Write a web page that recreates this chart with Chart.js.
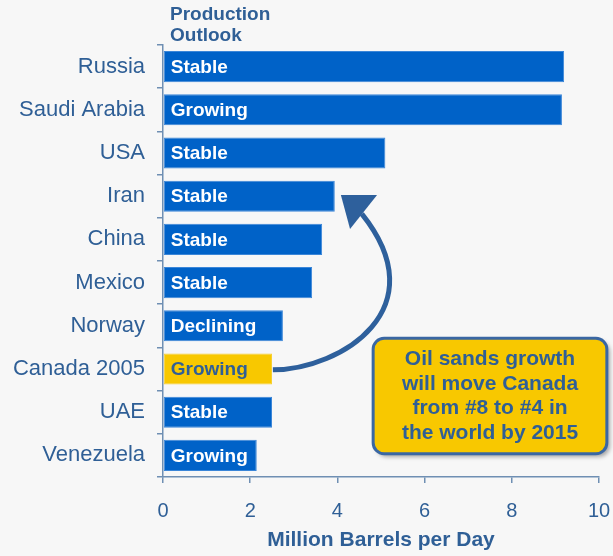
<!DOCTYPE html>
<html>
<head>
<meta charset="utf-8">
<script src="https://cdn.jsdelivr.net/npm/chart.js@4/dist/chart.umd.min.js"></script>
<style>
    html, body { margin: 0; padding: 0; background: #f7f7f7; }
    #wrap { width: 613px; height: 556px; position: relative; }
</style>
</head>
<body>
<div id="wrap"><canvas id="oil-chart"></canvas></div>
<script>
const countries = ['Russia', 'Saudi Arabia', 'USA', 'Iran', 'China', 'Mexico', 'Norway', 'Canada 2005', 'UAE', 'Venezuela'];
const production = [9.2, 9.15, 5.1, 3.94, 3.65, 3.42, 2.75, 2.5, 2.5, 2.15];
const outlook = ['Stable', 'Growing', 'Stable', 'Stable', 'Stable', 'Stable', 'Declining', 'Growing', 'Stable', 'Growing'];
const xTicks = [0, 2, 4, 6, 8, 10];
const noteLines = ['Oil sands growth', 'will move Canada', 'from #8 to #4 in', 'the world by 2015'];

const textBlue = '#2f5f96';
const barBlue = '#0062c8';
const canadaYellow = '#f8c800';

// bar colours, Canada highlighted
const barColors = countries.map(function (c) {
    return c.indexOf('Canada') === 0 ? canadaYellow : barBlue;
});

// draws outlook text inside bars, the header, the arrow and the note box
const overlayPlugin = {
    id: 'overlay',
    afterDatasetsDraw: function (chart) {
        const ctx = chart.ctx;
        const xs = chart.scales.x;
        const ys = chart.scales.y;
        const meta = chart.getDatasetMeta(0);
        const area = chart.chartArea;

        ctx.save();
        ctx.font = 'bold 19px "Liberation Sans", Arial, sans-serif';
        ctx.textBaseline = 'middle';
        ctx.textAlign = 'left';

        // header
        ctx.fillStyle = textBlue;
        ctx.fillText('Production', area.left + 7, area.top - 30);
        ctx.fillText('Outlook', area.left + 7, area.top - 9);

        // labels in bars
        meta.data.forEach(function (bar, i) {
            ctx.fillStyle = barColors[i] === canadaYellow ? textBlue : '#ffffff';
            ctx.fillText(outlook[i], bar.base + 7, bar.y + 1);
        });

        function px(v, idx) {
            return [xs.getPixelForValue(v), ys.getPixelForValue(idx)];
        }

        // curved arrow from Canada up to Iran
        const p0 = px(2.52, 7.02);
        const c1 = px(4.1, 7.0);
        const c2 = px(6.3, 5.6);
        const p3 = px(4.56, 3.41);
        ctx.strokeStyle = '#2e609c';
        ctx.lineWidth = 5;
        ctx.lineCap = 'butt';
        ctx.beginPath();
        ctx.moveTo(p0[0], p0[1]);
        ctx.bezierCurveTo(c1[0], c1[1], c2[0], c2[1], p3[0], p3[1]);
        ctx.stroke();

        const tip = px(4.08, 2.97);
        const ha = px(4.91, 2.97);
        const hb = px(4.29, 3.76);
        ctx.fillStyle = '#2e609c';
        ctx.beginPath();
        ctx.moveTo(tip[0], tip[1]);
        ctx.lineTo(ha[0], ha[1]);
        ctx.lineTo(hb[0], hb[1]);
        ctx.closePath();
        ctx.fill();

        // note box
        const b0 = px(4.82, 6.29);
        const b1 = px(10.18, 8.96);
        ctx.save();
        ctx.shadowColor = 'rgba(0, 0, 0, 0.35)';
        ctx.shadowBlur = 4;
        ctx.shadowOffsetX = 3;
        ctx.shadowOffsetY = 3;
        ctx.beginPath();
        ctx.roundRect(b0[0], b0[1], b1[0] - b0[0], b1[1] - b0[1], 11);
        ctx.fillStyle = canadaYellow;
        ctx.fill();
        ctx.restore();
        ctx.beginPath();
        ctx.roundRect(b0[0], b0[1], b1[0] - b0[0], b1[1] - b0[1], 11);
        ctx.lineWidth = 3;
        ctx.strokeStyle = '#3a67a3';
        ctx.stroke();

        ctx.fillStyle = textBlue;
        ctx.textAlign = 'center';
        ctx.font = 'bold 21px "Liberation Sans", Arial, sans-serif';
        const cx = (b0[0] + b1[0]) / 2;
        const lineY = [6.77, 7.35, 7.91, 8.49];
        noteLines.forEach(function (line, i) {
            ctx.fillText(line, cx, ys.getPixelForValue(lineY[i]));
        });
        ctx.restore();
    }
};

const ctx = document.getElementById('oil-chart').getContext('2d');
const chart = new Chart(ctx, {
    type: 'bar',
    data: {
        labels: countries,
        datasets: [{
            data: production,
            backgroundColor: barColors,
            borderColor: barColors.map(function (c) { return c === barBlue ? '#3b86d8' : '#f8d030'; }),
            borderWidth: 1,
            borderSkipped: false,
            categoryPercentage: 1,
            barPercentage: 0.72
        }]
    },
    options: {
        indexAxis: 'y',
        responsive: true,
        maintainAspectRatio: false,
        animation: false,
        layout: {
            padding: { top: 45, right: 14, left: 0, bottom: 0 }
        },
        plugins: {
            legend: { display: false },
            tooltip: { enabled: false }
        },
        scales: {
            x: {
                min: 0,
                max: 10,
                afterBuildTicks: function (scale) {
                    scale.ticks = xTicks.map(function (v) { return { value: v }; });
                },
                afterFit: function (scale) {
                    scale.height = 79;
                    scale.paddingLeft = 0;
                    scale.paddingRight = 0;
                },
                grid: {
                    drawOnChartArea: false,
                    tickLength: 6,
                    color: '#6f8fb3',
                    lineWidth: 1.5
                },
                border: { color: '#6f8fb3', width: 1.5 },
                ticks: {
                    color: textBlue,
                    padding: 16,
                    font: { family: '"Liberation Sans", Arial, sans-serif', size: 20 }
                },
                title: {
                    display: true,
                    text: 'Million Barrels per Day',
                    color: textBlue,
                    padding: { top: 0, bottom: 3 },
                    font: { family: '"Liberation Sans", Arial, sans-serif', size: 21, weight: 'bold' }
                }
            },
            y: {
                afterFit: function (scale) {
                    scale.width = 163;
                    scale.paddingTop = 0;
                    scale.paddingBottom = 0;
                },
                grid: {
                    drawOnChartArea: false,
                    offset: true,
                    tickLength: 6,
                    color: '#6f8fb3',
                    lineWidth: 1.5
                },
                border: { color: '#6f8fb3', width: 1.5 },
                ticks: {
                    color: textBlue,
                    padding: 12,
                    font: { family: '"Liberation Sans", Arial, sans-serif', size: 22 }
                }
            }
        }
    },
    plugins: [overlayPlugin]
});
</script>
</body>
</html>
